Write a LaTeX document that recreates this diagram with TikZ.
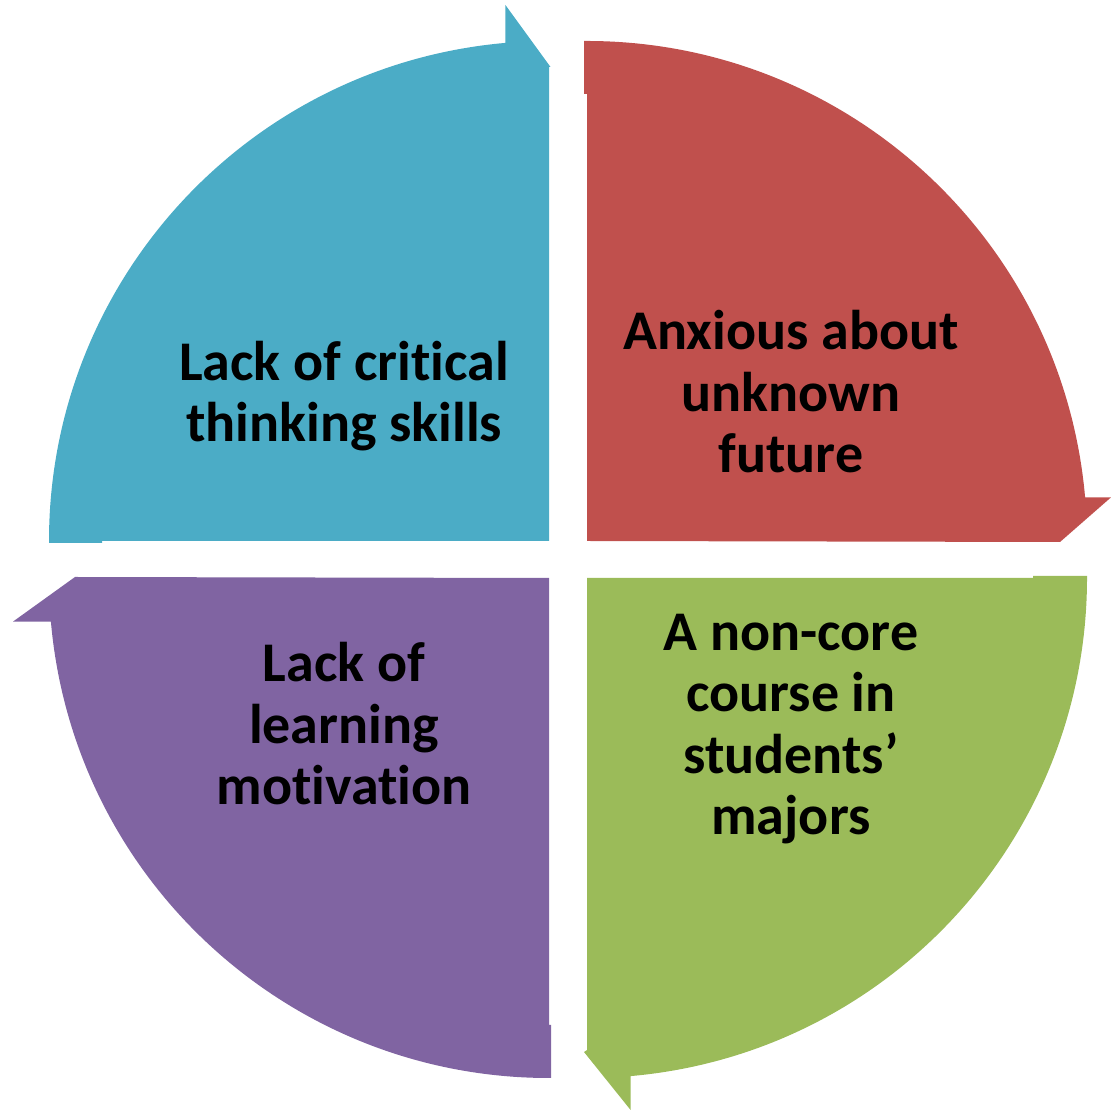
\documentclass[tikz,border=0pt]{standalone}
\usepackage{fontspec}
\setmainfont[RawFeature={-liga}]{Carlito}
\definecolor{qblue}{HTML}{4BACC6}
\definecolor{qred}{HTML}{C0504D}
\definecolor{qgreen}{HTML}{9BBB59}
\definecolor{qpurple}{HTML}{8064A2}
\begin{document}
\begin{tikzpicture}[x=1pt,y=1pt,
  lbl/.style={font=\bfseries\fontsize{56}{61.5}\selectfont, align=center, anchor=base, inner sep=0pt, text=black}]
\useasboundingbox (0,0) rectangle (1111,1111);
% blue quarter (top-left)
\fill[qblue] (549,570) -- (102,570) -- (102,568) -- (49,568) -- (49,570)
  arc[start angle=180, end angle=95, radius=500] -- (505.4,1106) -- (550.5,1044) -- (549,1044) -- cycle;
% red quarter (top-right)
\fill[qred] (587,570) -- (587,1017) -- (584,1017) -- (584,1070) -- (587,1070)
  arc[start angle=90, end angle=5, radius=500] -- (1111,613.6) -- (1060,569) -- cycle;
% green quarter (bottom-right)
\fill[qgreen] (587,533) -- (1033,533) -- (1033,535) -- (1087,535) -- (1087,533)
  arc[start angle=0, end angle=-85, radius=500] -- (630.6,1) -- (584,59) -- (587,61) -- cycle;
% purple quarter (bottom-left)
\fill[qpurple] (549,533) -- (549,86) -- (551,86) -- (551,33) -- (549,33)
  arc[start angle=270, end angle=185, radius=500] -- (13,489.4) -- (75,534) -- cycle;
% labels (anchor = baseline of last line)
\node[lbl] (tb) at (344,669) {Lack of critical\\thinking skills};
\node[lbl] (tr) at (791,638) {Anxious about\\unknown\\future};
\node[lbl] (tg) at (791,276) {A non-core\\course in\\students’\\majors};
\node[lbl] (tp) at (344,306) {Lack of\\learning\\motivation};
\end{tikzpicture}
\end{document}
